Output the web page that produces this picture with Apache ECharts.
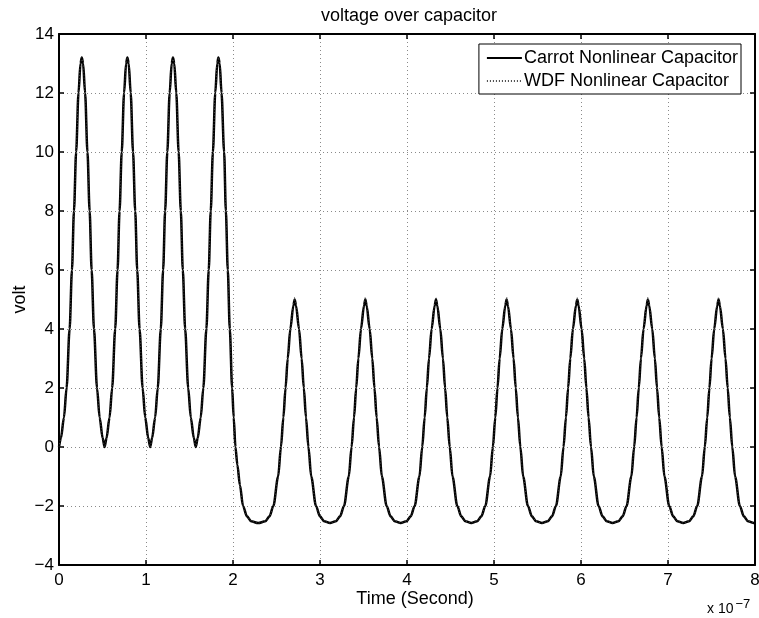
<!DOCTYPE html>
<html>
<head>
<meta charset="utf-8">
<title>voltage over capacitor</title>
<script src="https://cdn.jsdelivr.net/npm/echarts@6/dist/echarts.min.js"></script>
<style>
  html, body { margin: 0; padding: 0; background: #fff; }
  .chart { width: 759px; height: 618px; }
</style>
</head>
<body>
<div class="chart"></div>
<script>
// time axis in units of 1e-7 s
var timeValues = [
  0, 0.022, 0.057, 0.087, 0.122, 0.149, 0.172, 0.197, 0.224, 0.247, 0.262, 0.277, 0.300, 0.327, 0.352, 0.375, 0.402, 0.437, 0.467, 0.502, 0.524,
  0.546, 0.581, 0.611, 0.646, 0.673, 0.696, 0.721, 0.748, 0.771, 0.786, 0.801, 0.824, 0.851, 0.876, 0.899, 0.926, 0.961, 0.991, 1.026, 1.048,
  1.070, 1.105, 1.135, 1.170, 1.197, 1.220, 1.245, 1.272, 1.295, 1.310, 1.325, 1.348, 1.375, 1.400, 1.423, 1.450, 1.485, 1.515, 1.550, 1.572,
  1.594, 1.629, 1.659, 1.694, 1.721, 1.744, 1.769, 1.796, 1.819, 1.832, 1.847, 1.868, 1.898, 1.918, 1.940, 1.963, 1.990, 2.008, 2.028, 2.050, 2.080, 2.115, 2.160, 2.210, 2.290,
  2.370, 2.420, 2.464, 2.519, 2.551, 2.579, 2.604, 2.629, 2.659, 2.694, 2.709, 2.724, 2.759, 2.789, 2.814, 2.839, 2.867, 2.899, 2.954, 2.999, 3.049, 3.115,
  3.181, 3.231, 3.276, 3.331, 3.363, 3.391, 3.416, 3.441, 3.471, 3.506, 3.521, 3.536, 3.571, 3.601, 3.626, 3.651, 3.679, 3.711, 3.766, 3.811, 3.861, 3.927,
  3.993, 4.043, 4.088, 4.143, 4.175, 4.203, 4.228, 4.253, 4.283, 4.318, 4.333, 4.348, 4.383, 4.413, 4.438, 4.463, 4.491, 4.523, 4.578, 4.623, 4.673, 4.739,
  4.805, 4.855, 4.900, 4.955, 4.987, 5.015, 5.040, 5.065, 5.095, 5.130, 5.145, 5.160, 5.195, 5.225, 5.250, 5.275, 5.303, 5.335, 5.390, 5.435, 5.485, 5.551,
  5.617, 5.667, 5.712, 5.767, 5.799, 5.827, 5.852, 5.877, 5.907, 5.942, 5.957, 5.972, 6.007, 6.037, 6.062, 6.087, 6.115, 6.147, 6.202, 6.247, 6.297, 6.363,
  6.429, 6.479, 6.524, 6.579, 6.611, 6.639, 6.664, 6.689, 6.719, 6.754, 6.769, 6.784, 6.819, 6.849, 6.874, 6.899, 6.927, 6.959, 7.014, 7.059, 7.109, 7.175,
  7.241, 7.291, 7.336, 7.391, 7.423, 7.451, 7.476, 7.501, 7.531, 7.566, 7.581, 7.596, 7.631, 7.661, 7.686, 7.711, 7.739, 7.771, 7.826, 7.871, 7.921, 7.987, 8.000
];

var carrotVolt = [
  0, 0.3, 1, 2, 4, 6, 8, 10, 12, 13, 13.2, 13, 12, 10, 8, 6, 4, 2, 1, 0.3, 0,
  0.3, 1, 2, 4, 6, 8, 10, 12, 13, 13.2, 13, 12, 10, 8, 6, 4, 2, 1, 0.3, 0,
  0.3, 1, 2, 4, 6, 8, 10, 12, 13, 13.2, 13, 12, 10, 8, 6, 4, 2, 1, 0.3, 0,
  0.3, 1, 2, 4, 6, 8, 10, 12, 13, 13.2, 13, 12, 10, 8, 6, 4, 2, 1, 0, -0.6, -1.3, -2, -2.35, -2.52, -2.58,
  -2.52, -2.35, -2, -1, 0, 1, 2, 3, 4, 4.8, 5, 4.8, 4, 3, 2, 1, 0, -1, -2, -2.35, -2.52, -2.58,
  -2.52, -2.35, -2, -1, 0, 1, 2, 3, 4, 4.8, 5, 4.8, 4, 3, 2, 1, 0, -1, -2, -2.35, -2.52, -2.58,
  -2.52, -2.35, -2, -1, 0, 1, 2, 3, 4, 4.8, 5, 4.8, 4, 3, 2, 1, 0, -1, -2, -2.35, -2.52, -2.58,
  -2.52, -2.35, -2, -1, 0, 1, 2, 3, 4, 4.8, 5, 4.8, 4, 3, 2, 1, 0, -1, -2, -2.35, -2.52, -2.58,
  -2.52, -2.35, -2, -1, 0, 1, 2, 3, 4, 4.8, 5, 4.8, 4, 3, 2, 1, 0, -1, -2, -2.35, -2.52, -2.58,
  -2.52, -2.35, -2, -1, 0, 1, 2, 3, 4, 4.8, 5, 4.8, 4, 3, 2, 1, 0, -1, -2, -2.35, -2.52, -2.58,
  -2.52, -2.35, -2, -1, 0, 1, 2, 3, 4, 4.8, 5, 4.8, 4, 3, 2, 1, 0, -1, -2, -2.35, -2.52, -2.58, -2.58
];

// WDF trace sits on top of the Carrot one, peaks a hair higher
var wdfVolt = [
  0, 0.3, 1, 2, 4, 6, 8, 10, 12, 13, 13.2, 13, 12, 10, 8, 6, 4, 2, 1, 0.3, 0,
  0.3, 1, 2, 4, 6, 8, 10, 12, 13, 13.2, 13, 12, 10, 8, 6, 4, 2, 1, 0.3, 0,
  0.3, 1, 2, 4, 6, 8, 10, 12, 13, 13.2, 13, 12, 10, 8, 6, 4, 2, 1, 0.3, 0,
  0.3, 1, 2, 4, 6, 8, 10, 12, 13, 13.2, 13, 12, 10, 8, 6, 4, 2, 1, 0, -0.6, -1.3, -2, -2.35, -2.52, -2.58,
  -2.52, -2.35, -2, -1, 0, 1, 2, 3, 4, 4.85, 5.08, 4.85, 4, 3, 2, 1, 0, -1, -2, -2.35, -2.52, -2.58,
  -2.52, -2.35, -2, -1, 0, 1, 2, 3, 4, 4.85, 5.08, 4.85, 4, 3, 2, 1, 0, -1, -2, -2.35, -2.52, -2.58,
  -2.52, -2.35, -2, -1, 0, 1, 2, 3, 4, 4.85, 5.08, 4.85, 4, 3, 2, 1, 0, -1, -2, -2.35, -2.52, -2.58,
  -2.52, -2.35, -2, -1, 0, 1, 2, 3, 4, 4.85, 5.08, 4.85, 4, 3, 2, 1, 0, -1, -2, -2.35, -2.52, -2.58,
  -2.52, -2.35, -2, -1, 0, 1, 2, 3, 4, 4.85, 5.08, 4.85, 4, 3, 2, 1, 0, -1, -2, -2.35, -2.52, -2.58,
  -2.52, -2.35, -2, -1, 0, 1, 2, 3, 4, 4.85, 5.08, 4.85, 4, 3, 2, 1, 0, -1, -2, -2.35, -2.52, -2.58,
  -2.52, -2.35, -2, -1, 0, 1, 2, 3, 4, 4.85, 5.08, 4.85, 4, 3, 2, 1, 0, -1, -2, -2.35, -2.52, -2.58, -2.58
];

var seriesNames = ['Carrot Nonlinear Capacitor', 'WDF Nonlinear Capacitor'];

(function() {
    var font = '"Liberation Sans", Arial, Helvetica, sans-serif';
    // 1.实例化对象
    var myChart = echarts.init(document.querySelector('.chart'), null, { renderer: 'canvas' });

    function pairs(vals) {
        return timeValues.map(function(t, i) { return [t, vals[i]]; });
    }
    function minusFmt(v) {
        return String(v).replace('-', '\u2212');
    }

    var gridLine = { show: true, lineStyle: { color: '#8a8a8a', type: [1, 3], width: 1 } };
    var axisLine = { show: true, onZero: false, lineStyle: { color: '#000', width: 2 } };
    var tick = { show: true, inside: true, length: 5, lineStyle: { color: '#000', width: 1.5 } };

    // 2.指定配置项和数据
    var option = {
        animation: false,
        backgroundColor: '#fff',
        textStyle: { fontFamily: font },
        title: {
            text: 'voltage over capacitor',
            left: 316,
            top: 2,
            textStyle: { color: '#000', fontSize: 18, fontWeight: 'normal', fontFamily: font }
        },
        legend: {
            right: 18,
            top: 44,
            orient: 'vertical',
            data: seriesNames,
            itemWidth: 35,
            itemHeight: 14,
            itemGap: 5,
            padding: [5, 3, 4, 7],
            borderColor: '#000',
            borderWidth: 1,
            borderRadius: 0,
            backgroundColor: '#fff',
            itemStyle: { color: 'rgba(0,0,0,0)', borderColor: 'rgba(0,0,0,0)', borderWidth: 0, opacity: 0 },
            textStyle: { color: '#000', fontSize: 18, fontFamily: font, padding: [0, 0, 0, -3] }
        },
        grid: { left: 59, right: 4, top: 34, bottom: 53, containLabel: false, outerBoundsMode: 'none' },
        xAxis: [
            {
                type: 'value',
                min: 0, max: 8, interval: 1,
                name: 'Time (Second)',
                nameLocation: 'middle',
                nameGap: 25,
                nameMoveOverlap: false,
                nameTextStyle: { color: '#000', fontSize: 18, fontFamily: font, padding: [0, 0, 0, 16] },
                axisLine: axisLine,
                axisTick: tick,
                axisLabel: { color: '#000', fontSize: 17, margin: 7, fontFamily: font },
                splitLine: gridLine
            },
            {
                type: 'value', position: 'top',
                min: 0, max: 8, interval: 1,
                axisLine: axisLine,
                axisTick: tick,
                axisLabel: { show: false },
                splitLine: { show: false }
            }
        ],
        yAxis: [
            {
                type: 'value',
                min: -4, max: 14, interval: 2,
                name: 'volt',
                nameLocation: 'middle',
                nameGap: 30,
                nameMoveOverlap: false,
                nameTextStyle: { color: '#000', fontSize: 18, fontFamily: font },
                axisLine: axisLine,
                axisTick: tick,
                axisLabel: { color: '#000', fontSize: 17, margin: 5, fontFamily: font, formatter: minusFmt },
                splitLine: gridLine
            },
            {
                type: 'value', position: 'right',
                min: -4, max: 14, interval: 2,
                axisLine: axisLine,
                axisTick: tick,
                axisLabel: { show: false },
                splitLine: { show: false }
            }
        ],
        graphic: [
            {
                type: 'text',
                left: 707,
                top: 598,
                style: {
                    text: 'x 10{sup|\u22127}',
                    fill: '#000',
                    font: '14px ' + font,
                    rich: { sup: { fontSize: 13, verticalAlign: 'top', padding: [0, 0, 10, 2], fill: '#000', fontFamily: font } }
                }
            }
        ],
        series: [
            {
                name: seriesNames[0],
                type: 'line',
                data: pairs(carrotVolt),
                showSymbol: false,
                symbol: 'none',
                smooth: 0.3,
                smoothMonotone: 'x',
                lineStyle: { color: '#000', width: 2.5 },
                itemStyle: { color: '#000' }
            },
            {
                name: seriesNames[1],
                type: 'line',
                data: pairs(wdfVolt),
                showSymbol: false,
                symbol: 'none',
                smooth: 0.3,
                smoothMonotone: 'x',
                lineStyle: { color: '#444', width: 1, type: [1, 2] },
                itemStyle: { color: '#444' }
            }
        ]
    };
    // 3.把配置项给实例对象
    myChart.setOption(option);
})();
</script>
</body>
</html>
